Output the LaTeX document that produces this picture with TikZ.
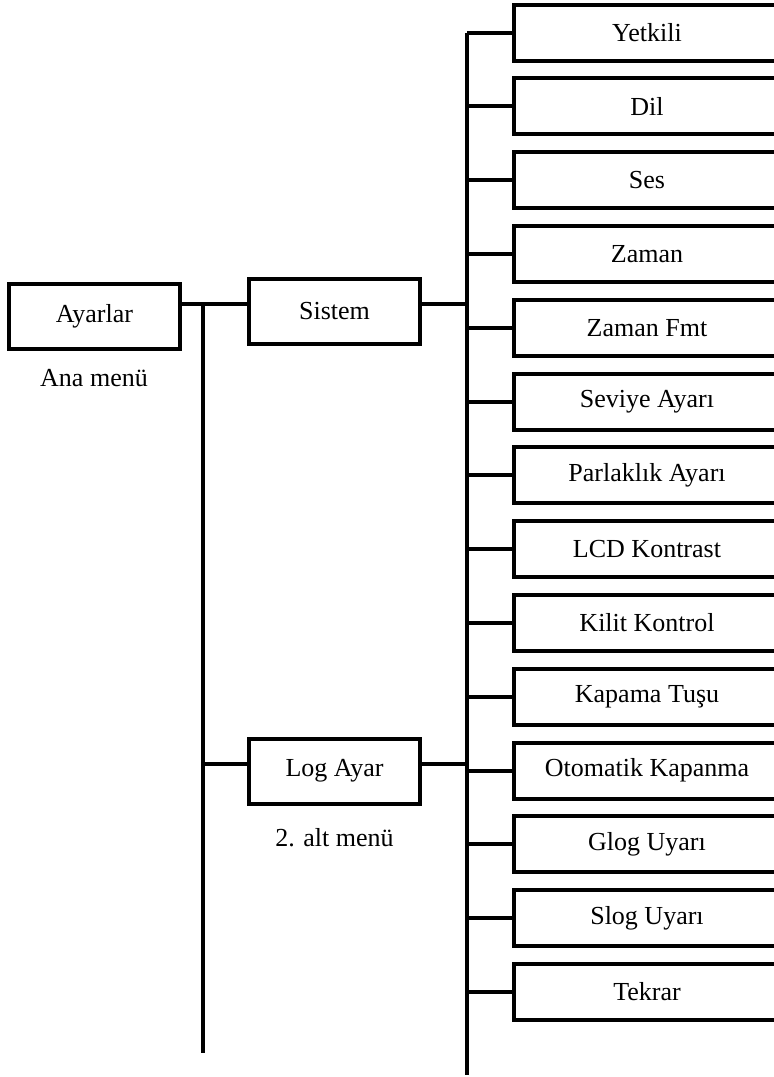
\documentclass[tikz,border=0pt]{standalone}
\usepackage{fontspec}
\setmainfont{Liberation Serif}
\usetikzlibrary{positioning,calc}
\tikzset{menubox/.style={draw=black,line width=2pt,minimum width=85.5pt,minimum height=32.5pt,
 inner sep=0pt,font=\fontsize{13}{15}\selectfont},
 menuline/.style={draw=black,line width=2pt},
 menulabel/.style={font=\fontsize{13}{15}\selectfont,inner sep=1pt}}

\begin{document}
\begin{tikzpicture}[x=0.5pt,y=0.5pt,sub/.style={menubox,minimum width=133pt,minimum height=28pt}]
\useasboundingbox (0,0) rectangle (773,-1077);
\node[menubox] (ayar) at (94.5,-316) {Ayarlar};
\node[menulabel] (ana) at (94,-378) {Ana menü};
\node[menubox] (sistem) at (334.5,-311.5) {Sistem};
\node[menubox] (log) at (334.5,-771) {Log Ayar};
\node[menulabel] (alt) at (334.5,-838) {2. alt menü};
% buses
\coordinate (j1) at (203,-304);\coordinate (j2) at (203,-764);\coordinate (lend) at (203,-1053);
\coordinate (rb) at (467,-304);\coordinate (rend) at (467,-1075);
\draw[menuline] (ayar.east |- j1)--(sistem.west |- j1);
\draw[menuline] (j1)--(lend);
\draw[menuline] (j2)--(log.west |- j2);
\draw[menuline] (sistem.east |- rb)--(rb);
\draw[menuline] (log.east |- j2)--(rb |- j2);
% sub menu items
\foreach \name/\txt [count=\i from 0] in {yet/Yetkili,dil/Dil,ses/Ses,zam/Zaman,zfmt/Zaman Fmt,
 sev/Seviye Ayarı,par/Parlaklık Ayarı,lcd/LCD Kontrast,kil/Kilit Kontrol,kap/Kapama Tuşu,
 oto/Otomatik Kapanma,glog/Glog Uyarı,slog/Slog Uyarı,tek/Tekrar}{
 \node[sub] (\name) at (647,{-32.5-73.8*\i}) {\txt};
 \draw[menuline] (rb |- \name.west)--(\name.west);
}
\draw[menuline] (rb |- yet.west)--(rend);
\end{tikzpicture}
\end{document}
